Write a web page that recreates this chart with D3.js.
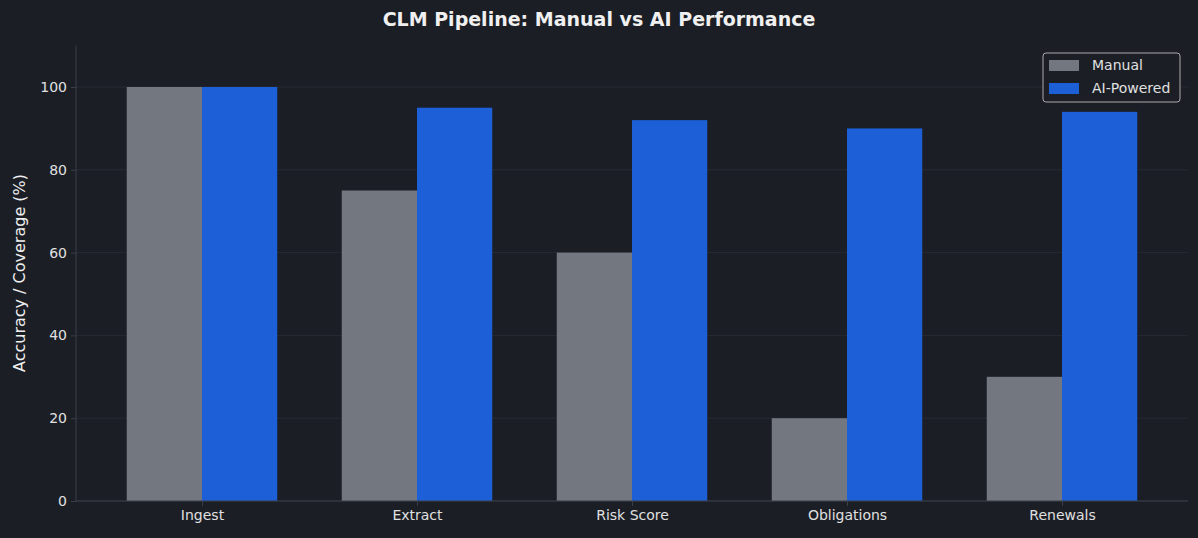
<!DOCTYPE html><html><head><meta charset="utf-8">
<script src="https://cdn.jsdelivr.net/npm/d3@7"></script>
<style>body{margin:0;background:#1b1e25}svg{display:block;font-family:"DejaVu Sans",sans-serif}</style></head><body>
<svg id="c" width="1198" height="538"></svg>
<script>
const categories=["Ingest","Extract","Risk Score","Obligations","Renewals"];
const manual=[100,75,60,20,30];
const ai=[100,95,92,90,94];
const yTicks=[0,20,40,60,80,100];
const seriesNames=["Manual","AI-Powered"];
const colors=["#737780","#1c5fd6"];
const svg=d3.select("#c");
svg.append("rect").attr("width",1198).attr("height",538).attr("fill","#1b1e25");
const L=76,R=1188,T=45.6,B=501;
const x=d3.scaleLinear().domain([-0.586,4.586]).range([L,R]);
const y=d3.scaleLinear().domain([0,110]).range([B,T]);
const g=svg.append("g");
yTicks.forEach(t=>{g.append("line").attr("x1",L).attr("x2",R).attr("y1",y(t)).attr("y2",y(t)).attr("stroke","#2a2e37").attr("stroke-width",0.8);});
const w=0.35;
[manual,ai].forEach((s,si)=>{
 g.selectAll(null).data(s).enter().append("rect")
 .attr("x",(d,i)=>x(i+(si===0?-w:0))).attr("width",x(w)-x(0))
 .attr("y",d=>y(d)).attr("height",d=>B-y(d)).attr("fill",colors[si]);
});
const ya=svg.append("g").attr("transform",`translate(${L},0)`).call(d3.axisLeft(y).tickValues(yTicks).tickSize(5).tickPadding(4));
const xa=svg.append("g").attr("transform",`translate(0,${B})`).call(d3.axisBottom(x).tickValues(d3.range(5)).tickFormat(i=>categories[i]).tickSize(5).tickPadding(4));
[ya,xa].forEach(a=>{a.selectAll("path,line").attr("stroke","#3a3e47");a.selectAll("text").attr("fill","#e0e0e0").attr("font-size",14).attr("font-family","DejaVu Sans");});
xa.select("path").attr("d",`M${L},0H${R}`);
ya.select("path").attr("d",`M0,${B}V${T}`);
svg.append("text").attr("x",599).attr("y",26).attr("text-anchor","middle").attr("fill","#f0f0f0").attr("font-size",19).attr("font-weight","bold").text("CLM Pipeline: Manual vs AI Performance");
svg.append("text").attr("transform","translate(25,273) rotate(-90)").attr("text-anchor","middle").attr("fill","#f0f0f0").attr("font-size",16).text("Accuracy / Coverage (%)");
const lg=svg.append("g");
lg.append("rect").attr("x",1043).attr("y",53).attr("width",137).attr("height",49).attr("rx",3).attr("fill","#1b1e25").attr("stroke","#aaaaaa");
seriesNames.forEach((n,i)=>{
 lg.append("rect").attr("x",1049).attr("y",60+i*23).attr("width",30).attr("height",11).attr("fill",colors[i]);
 lg.append("text").attr("x",1092).attr("y",70+i*23).attr("fill","#e0e0e0").attr("font-size",14).text(n);
});
</script></body></html>
